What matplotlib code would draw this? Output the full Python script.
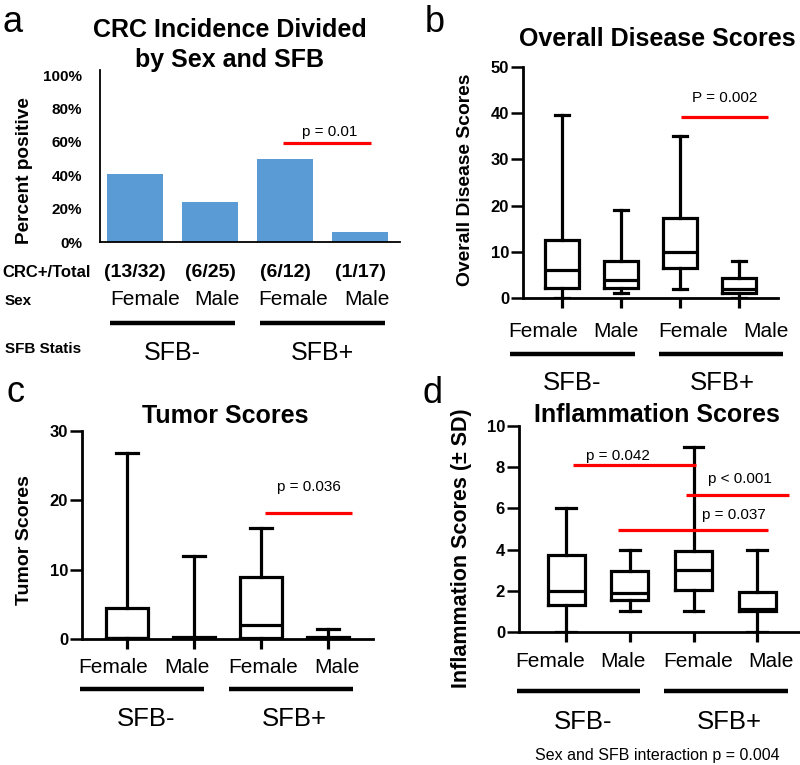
import matplotlib.pyplot as plt
from matplotlib.lines import Line2D

plt.rcParams['font.family'] = ['Liberation Sans', 'DejaVu Sans']

W, H = 800, 765  # figure size in pixels

# ---------------------------------------------------------------- data
sex = ["Female", "Male", "Female", "Male"]
sfb = ["SFB-", "SFB+"]

# (a) CRC incidence
crc_pos = [13, 6, 6, 1]
crc_tot = [32, 25, 12, 17]
pct_pos = [100 * p / t for p, t in zip(crc_pos, crc_tot)]

# (b) overall disease scores: whisker low, Q1, median, Q3, whisker high
overall_lo = [0, 1, 2, 0]
overall_q1 = [2.2, 2.2, 6.5, 1.1]
overall_med = [6, 4, 10, 2]
overall_q3 = [12.5, 8, 17.3, 4.3]
overall_hi = [39.7, 19, 35, 8]

# (c) tumor scores
tumor_lo = [0, 0, 0, 0]
tumor_q1 = [0.2, 0, 0.2, 0]
tumor_med = [0.2, 0.2, 2, 0.2]
tumor_q3 = [4.4, 0.3, 9, 0.3]
tumor_hi = [26.8, 12, 16, 1.5]

# (d) inflammation scores
infl_lo = [0, 1, 1, 0]
infl_q1 = [1.3, 1.55, 2.05, 1]
infl_med = [2, 1.9, 3, 1.1]
infl_q3 = [3.75, 2.95, 3.95, 1.95]
infl_hi = [6, 4, 9, 4]

# significance bars: (x0, x1, y, label, text x, text offset in points)
sig_a = [(1.97, 3.15, 59, "p = 0.01", 2.59, 5.5)]
sig_b = [(2.02, 3.49, 39.2, "P = 0.002", 2.76, 10.5)]
sig_c = [(2.06, 3.36, 18.2, "p = 0.036", 2.72, 15.5)]
sig_d = [(0.11, 2.04, 8.1, "p = 0.042", 0.82, 4.0),
         (1.88, 3.50, 6.66, "p < 0.001", 2.72, 8.5),
         (0.82, 3.17, 4.93, "p = 0.037", 2.64, 8.5)]

RED = "#FF0000"
BLUE = "#5B9BD5"
LW = 2.3

fig = plt.figure(figsize=(W / 100, H / 100), dpi=100)


def add_ax(x0, y0, x1, y1):
    return fig.add_axes([x0 / W, 1 - y1 / H, (x1 - x0) / W, (y1 - y0) / H])


def ftext(x, y, s, **kw):
    kw.setdefault("va", "baseline")
    fig.text(x / W, 1 - y / H, s, **kw)


def fline(x0, x1, y, lw=3.2):
    fig.add_artist(Line2D([x0 / W, x1 / W], [1 - y / H] * 2, lw=lw,
                          color="black", solid_capstyle="butt"))


def draw_sig(ax, sigs):
    for x0, x1, y, lab, tx, dy in sigs:
        ax.plot([x0, x1], [y, y], color=RED, lw=2.3, solid_capstyle="butt",
                clip_on=False, zorder=5)
        ax.annotate(lab, (tx, y), xytext=(0, dy), textcoords="offset points",
                    ha="center", va="baseline", fontsize=11, annotation_clip=False)


def box_panel(ax, lo, q1, med, q3, hi, ylim, yticks, xlim, width, capw):
    stats = [dict(whislo=a, q1=b, med=c, q3=d, whishi=e)
             for a, b, c, d, e in zip(lo, q1, med, q3, hi)]
    lp = dict(color="black", lw=LW, solid_joinstyle="miter")
    ax.bxp(stats, positions=range(4), widths=width, capwidths=capw,
           showfliers=False, manage_ticks=False,
           boxprops=lp, whiskerprops=lp, capprops=lp, medianprops=lp)
    for s in ("top", "right"):
        ax.spines[s].set_visible(False)
    for s in ("left", "bottom"):
        ax.spines[s].set_linewidth(2.0)
    ax.set_xlim(*xlim)
    ax.set_ylim(*ylim)
    ax.set_yticks(yticks)
    ax.set_xticks(range(4))
    ax.tick_params(axis="y", length=9, width=1.8, labelsize=12, pad=1)
    ax.tick_params(axis="x", length=7, width=LW, labelbottom=False)
    for lbl in ax.get_yticklabels():
        lbl.set_fontweight("bold")
    ax.patch.set_alpha(0)


# ---------------------------------------------------------------- (a)
axa = add_ax(100, 70, 400, 242)
axa.bar(range(4), pct_pos, width=0.75, color=BLUE)
axa.set_xlim(-0.467, 3.533)
axa.set_ylim(0, 103)
axa.set_yticks([0, 20, 40, 60, 80, 100])
axa.set_yticklabels([f"{v}%" for v in [0, 20, 40, 60, 80, 100]],
                    fontweight="bold", fontsize=11)
axa.set_xticks([])
axa.tick_params(axis="y", length=0, pad=13)
for s in ("top", "right"):
    axa.spines[s].set_visible(False)
for s in ("left", "bottom"):
    axa.spines[s].set_linewidth(1.3)
axa.patch.set_alpha(0)
draw_sig(axa, sig_a)

ftext(3, 32, "a", fontsize=26)
ftext(230, 37, "CRC Incidence Divided", fontsize=18, fontweight="bold", ha="center")
ftext(230, 67, "by Sex and SFB", fontsize=18, fontweight="bold", ha="center")
ftext(25, 171, "Percent positive", fontsize=13.7, fontweight="bold", rotation=90,
      ha="center", va="center")
ftext(2, 277, "CRC+/Total", fontsize=12, fontweight="bold")
ftext(5, 305, "Sex", fontsize=11, fontweight="bold")
ftext(5, 353, "SFB Statis", fontsize=11, fontweight="bold")
for xc, p, t in zip([135, 210, 285, 360], crc_pos, crc_tot):
    ftext(xc, 277, f"({p}/{t})", fontsize=14, fontweight="bold", ha="center")
for xc, s in zip([145, 217, 293, 367], sex):
    ftext(xc, 305, s, fontsize=15, ha="center")
fline(110, 235, 323)
fline(260, 385, 323)
ftext(172, 360, sfb[0], fontsize=18, ha="center")
ftext(322, 360, sfb[1], fontsize=18, ha="center")

# ---------------------------------------------------------------- (b)
axb = add_ax(523, 67, 778, 298)
box_panel(axb, overall_lo, overall_q1, overall_med, overall_q3, overall_hi,
          (0, 50), [0, 10, 20, 30, 40, 50], (-0.661, 3.66), 0.58, 0.24)
draw_sig(axb, sig_b)
ftext(425, 32, "b", fontsize=26)
ftext(657, 46, "Overall Disease Scores", fontsize=18, fontweight="bold", ha="center")
ftext(465, 180, "Overall Disease Scores", fontsize=13.9, fontweight="bold",
      rotation=90, ha="center", va="center")
for xc, s in zip([543, 616, 693, 766], sex):
    ftext(xc, 337, s, fontsize=15, ha="center")
fline(510, 635, 354)
fline(659, 783, 354)
ftext(572, 390, sfb[0], fontsize=18.5, ha="center")
ftext(722, 390, sfb[1], fontsize=18.5, ha="center")

# ---------------------------------------------------------------- (c)
axc = add_ax(82, 431, 373, 639)
box_panel(axc, tumor_lo, tumor_q1, tumor_med, tumor_q3, tumor_hi,
          (0, 30), [0, 10, 20, 30], (-0.672, 3.67), 0.63, 0.34)
draw_sig(axc, sig_c)
ftext(7, 402, "c", fontsize=26)
ftext(225, 423, "Tumor Scores", fontsize=18, fontweight="bold", ha="center")
ftext(25, 540, "Tumor Scores", fontsize=14, fontweight="bold", rotation=90,
      ha="center", va="center")
for xc, s in zip([113, 187, 263, 337], sex):
    ftext(xc, 673, s, fontsize=15, ha="center")
fline(80, 204, 689)
fline(229, 353, 689)
ftext(146, 726, sfb[0], fontsize=18.5, ha="center")
ftext(294, 726, sfb[1], fontsize=18.5, ha="center")

# ---------------------------------------------------------------- (d)
axd = add_ax(519, 426, 800, 632)
box_panel(axd, infl_lo, infl_q1, infl_med, infl_q3, infl_hi,
          (0, 10), [0, 2, 4, 6, 8, 10], (-0.738, 3.67), 0.58, 0.31)
draw_sig(axd, sig_d)
ftext(422, 403, "d", fontsize=26)
ftext(657, 422, "Inflammation Scores", fontsize=18, fontweight="bold", ha="center")
ftext(462, 548, "Inflammation Scores (\u00b1 SD)", fontsize=15.5, fontweight="bold",
      rotation=90, ha="center", va="center")
for xc, s in zip([550, 623, 698, 771], sex):
    ftext(xc, 667, s, fontsize=15, ha="center")
fline(517, 640, 691)
fline(664, 788, 691)
ftext(583, 729, sfb[0], fontsize=18.5, ha="center")
ftext(729, 729, sfb[1], fontsize=18.5, ha="center")
ftext(657, 760, "Sex and SFB interaction p = 0.004", fontsize=11.5, ha="center")

fig.savefig("out.png", dpi=100)
